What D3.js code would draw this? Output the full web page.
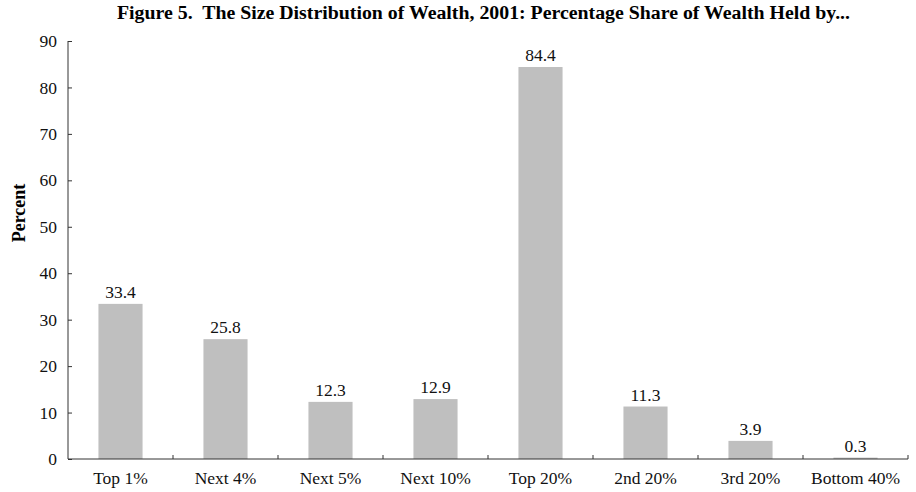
<!DOCTYPE html>
<html lang="en">
<head>
  <meta charset="UTF-8">
  <script src="https://d3js.org/d3.v7.min.js"></script>
  <style>
  body {
    margin:0;
    background-color:#fff;
    font-family:"Liberation Serif", "Times New Roman", serif;
  }
  .axis path, .axis line {
    stroke:#333;
  }
  .axis text {
    font-family:"Liberation Serif", serif;
    font-size:17.5px;
    fill:#111;
  }
  </style>
</head>
<body>
<svg id="chart" width="916" height="492"></svg>
<script>
const categories = ["Top 1%","Next 4%","Next 5%","Next 10%","Top 20%","2nd 20%","3rd 20%","Bottom 40%"];
const shares = [33.4, 25.8, 12.3, 12.9, 84.4, 11.3, 3.9, 0.3];
const yTicks = [0,10,20,30,40,50,60,70,80,90];

let svg = d3.select("#chart");
let margin = {top:41, right:8, bottom:33, left:68};
let width = 916 - margin.left - margin.right;
let height = 492 - margin.top - margin.bottom;

let g = svg.append("g")
  .attr("transform","translate("+margin.left+","+margin.top+")");

let x = d3.scaleBand().domain(categories).range([0,width]).paddingInner(0.58).paddingOuter(0.29);
let y = d3.scaleLinear().domain([0,90]).range([height,0]);

// title (double space kept, stretched a bit like the original)
svg.append("text")
  .attr("x", 117)
  .attr("y", 19)
  .attr("xml:space","preserve")
  .attr("textLength", 733)
  .attr("lengthAdjust","spacingAndGlyphs")
  .style("font-weight","bold")
  .style("font-size","18px")
  .style("white-space","pre")
  .text("Figure 5.  The Size Distribution of Wealth, 2001: Percentage Share of Wealth Held by...");

// y label
svg.append("text")
  .attr("transform","translate(25,213) rotate(-90)")
  .attr("text-anchor","middle")
  .style("font-weight","bold")
  .style("font-size","18px")
  .text("Percent");

// bars
g.selectAll("rect").data(shares).enter()
  .append("rect")
  .attr("x",(d,i)=>x(categories[i]))
  .attr("y",d=>y(d))
  .attr("width",x.bandwidth())
  .attr("height",d=>height-y(d))
  .style("fill","#bfbfbf");

// value labels
g.selectAll(".val").data(shares).enter()
  .append("text")
  .attr("class","val")
  .attr("x",(d,i)=>x(categories[i])+x.bandwidth()/2)
  .attr("y",d=>y(d)-6)
  .attr("text-anchor","middle")
  .style("font-size","17.5px")
  .style("fill","#111")
  .text(d=>d.toFixed(1));

// y axis, ticks point inward
let yAxis = g.append("g").attr("class","axis")
  .call(d3.axisLeft(y).tickValues(yTicks).tickSize(-4).tickPadding(11));
yAxis.select(".domain").attr("d","M0,"+height+"V0");

// x axis: ticks between bands, pointing up
let step = x.step();
let xAxis = g.append("g").attr("class","axis")
  .attr("transform","translate(0,"+height+")");
xAxis.append("path").attr("d","M0,0H"+width).style("stroke","#333").style("fill","none");
xAxis.selectAll("line").data(d3.range(1, categories.length+1)).enter()
  .append("line")
  .attr("x1",i=>i*step).attr("x2",i=>i*step)
  .attr("y1",0).attr("y2",-4);
xAxis.selectAll("text").data(categories).enter()
  .append("text")
  .attr("x",d=>x(d)+x.bandwidth()/2)
  .attr("y",25)
  .attr("text-anchor","middle")
  .text(d=>d);
</script>
</body>
</html>
